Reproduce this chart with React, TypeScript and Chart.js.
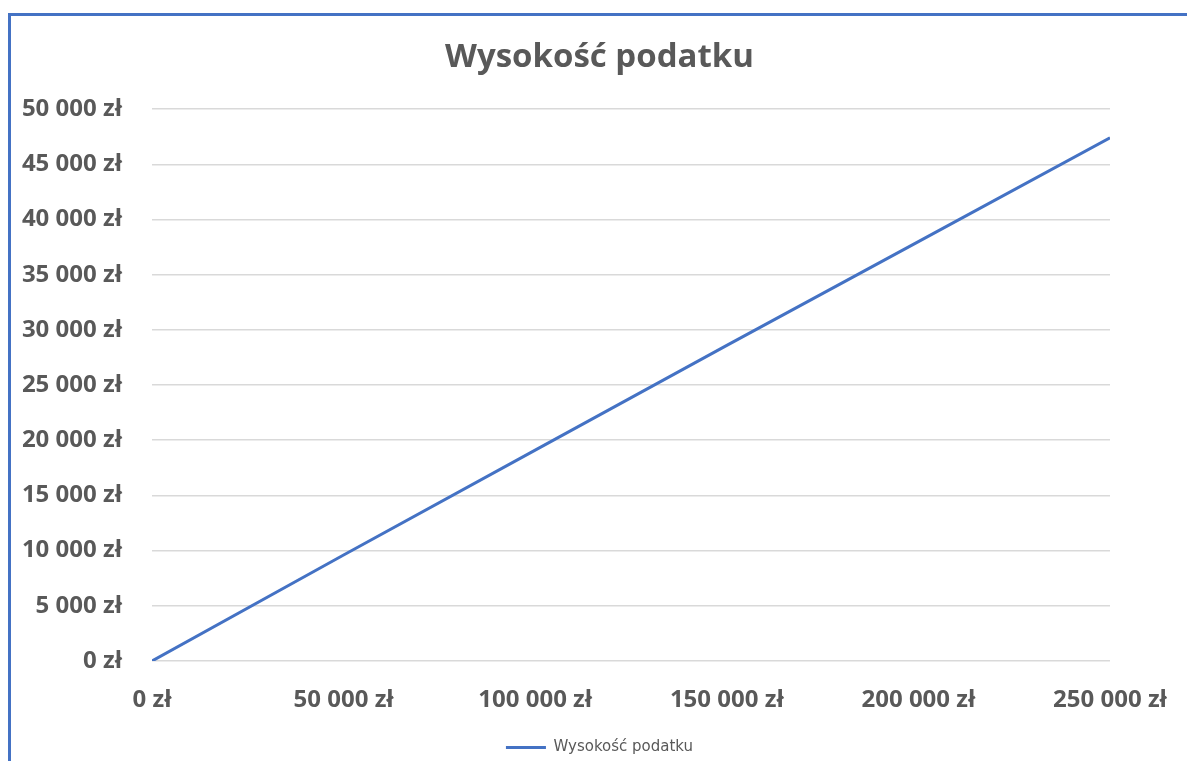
import { useEffect, useRef } from "react";
import { Chart, registerables } from "chart.js";

Chart.register(...registerables);

const TITLE = "Wysokość podatku";
const SERIES_LABEL = "Wysokość podatku";
const incomes = [0, 50000, 100000, 150000, 200000, 250000];
const taxes = [0, 9600, 19100, 28600, 38000, 47400];
const yTicks = [0, 5000, 10000, 15000, 20000, 25000, 30000, 35000, 40000, 45000, 50000];
const xTicks = [0, 50000, 100000, 150000, 200000, 250000];

const GRAY = "#595959";
const BLUE = "#4472C4";

function fmt(v: number): string {
  return String(Math.round(v)).replace(/\B(?=(\d{3})+(?!\d))/g, " ") + " zł";
}

export default function App() {
  const ref = useRef<HTMLCanvasElement | null>(null);
  useEffect(() => {
    if (!ref.current) return;
    const chart = new Chart(ref.current, {
      type: "scatter",
      data: {
        datasets: [
          {
            label: SERIES_LABEL,
            data: incomes.map((x, i) => ({ x, y: taxes[i] })),
            showLine: true,
            borderColor: BLUE,
            backgroundColor: BLUE,
            borderWidth: 3,
            pointRadius: 0,
            pointHoverRadius: 0,
            tension: 0,
          },
        ],
      },
      options: {
        animation: false,
        responsive: false,
        maintainAspectRatio: false,
        layout: { padding: { left: 12, right: 0, top: 0, bottom: -4 } },
        plugins: {
          title: {
            display: true,
            text: TITLE,
            color: GRAY,
            font: { family: "'Open Sans', sans-serif", size: 33, weight: "bold" },
            padding: { top: 38, bottom: 31.5 },
          },
          legend: {
            display: true,
            position: "bottom",
            labels: {
              color: GRAY,
              font: { family: "'DejaVu Sans', sans-serif", size: 15 },
              usePointStyle: true,
              pointStyle: "line",
              pointStyleWidth: 40,
              padding: 8,
            },
          },
          tooltip: { enabled: false },
        },
        scales: {
          x: {
            type: "linear",
            min: 0,
            max: 250000,
            afterBuildTicks: (s: any) => {
              s.ticks = xTicks.map((v) => ({ value: v }));
            },
            afterFit: (s: any) => {
              s.height = 71;
              s.paddingRight = 77;
              s.paddingLeft = 0;
            },
            grid: { display: false, drawTicks: false },
            border: { display: false },
            ticks: {
              color: GRAY,
              font: { family: "'Open Sans', sans-serif", size: 24, weight: "bold" },
              padding: 25,
              maxRotation: 0,
              callback: (v: any) => fmt(Number(v)),
            },
          },
          y: {
            type: "linear",
            position: "left",
            min: 0,
            max: 50000,
            afterBuildTicks: (s: any) => {
              s.ticks = yTicks.map((v) => ({ value: v }));
            },
            afterFit: (s: any) => {
              s.width = 140;
            },
            grid: { color: "#D9D9D9", lineWidth: 1.5, drawTicks: false },
            border: { display: false },
            ticks: {
              color: GRAY,
              font: { family: "'Open Sans', sans-serif", size: 24, weight: "bold" },
              padding: 30,
              callback: (v: any) => fmt(Number(v)),
            },
          },
        },
      },
    });
    return () => chart.destroy();
  }, []);

  return (
    <div style={{ position: "absolute", left: 0, top: 0, width: 1187, height: 761, background: "#fff", overflow: "hidden" }}>
      <div
        style={{
          position: "absolute",
          left: 8,
          top: 13,
          width: 1200,
          height: 800,
          borderLeft: `3px solid ${BLUE}`,
          borderTop: `3px solid ${BLUE}`,
          boxSizing: "border-box",
        }}
      />
      <canvas ref={ref} width={1187} height={761} style={{ position: "absolute", left: 0, top: 0 }} />
    </div>
  );
}
